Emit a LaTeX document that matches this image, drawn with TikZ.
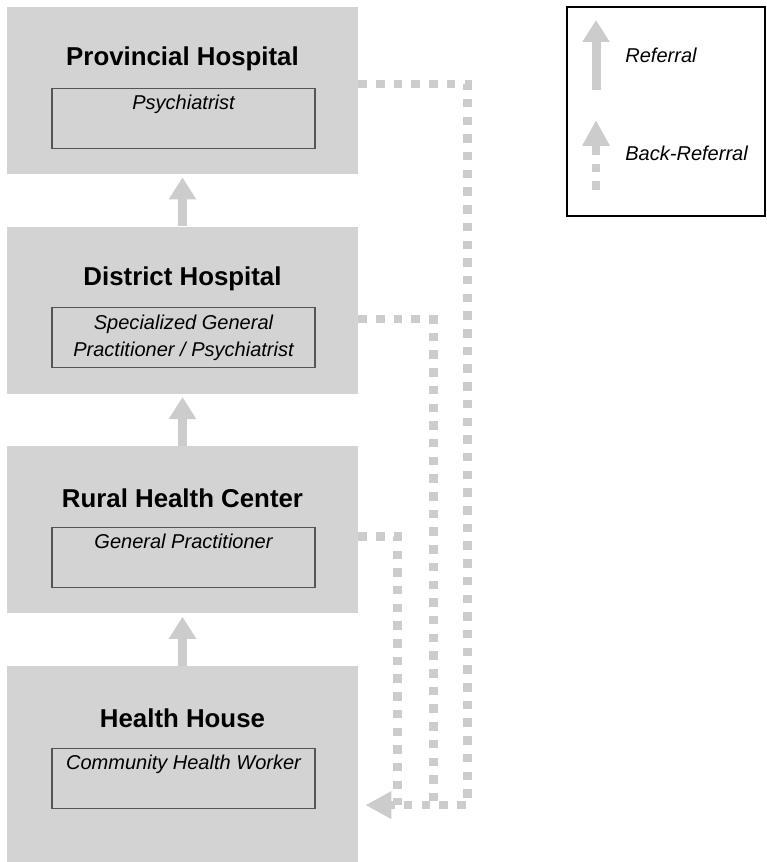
\documentclass[tikz,border=0pt]{standalone}
\usepackage{fontspec}
\setmainfont{Liberation Sans}
\usetikzlibrary{positioning,arrows.meta}
\definecolor{levelgray}{RGB}{211,211,211}
\definecolor{linkgray}{RGB}{204,204,204}
\definecolor{framegray}{RGB}{85,85,85}

\begin{document}
\begin{tikzpicture}[node distance=1.04cm,
  levelbox/.style={fill=levelgray, minimum width=7.02cm, minimum height=3.34cm, inner sep=0},
  leveltitle/.style={font=\fontsize{14.7}{17}\selectfont\bfseries, inner sep=0},
  staffbox/.style={draw=framegray, line width=0.6pt, minimum width=5.26cm, minimum height=1.2cm, inner sep=0},
  staff/.style={font=\fontsize{11.4}{15.3}\selectfont\itshape, align=center, inner sep=0, anchor=north},
  referral/.style={linkgray, line width=0.18cm, -{Triangle[width=0.52cm,length=0.44cm]}},
  backref/.style={linkgray, line width=0.17cm, dash pattern=on 0.17cm off 0.184cm},
  backtipped/.style={backref, -{Triangle[width=0.52cm,length=0.52cm]}},
  legendtext/.style={font=\fontsize{11.4}{15.3}\selectfont\itshape, anchor=west, inner sep=0}]

\useasboundingbox (0,0) rectangle (15.32,-17.24);

% levels of care
\node[levelbox] (prov) at (3.65,-1.81) {};
\node[levelbox, below=of prov] (dist) {};
\node[levelbox, below=of dist] (rural) {};
\node[levelbox, below=of rural, minimum height=3.96cm] (house) {};

\node[leveltitle] (provT) at ([yshift=-1.04cm]prov.north) {Provincial Hospital};
\node[leveltitle] (distT) at ([yshift=-1.04cm]dist.north) {District Hospital};
\node[leveltitle] (ruralT) at ([yshift=-1.04cm]rural.north) {Rural Health Center};
\node[leveltitle] (houseT) at ([yshift=-1.06cm]house.north) {Health House};

% staff at each level
\node[staffbox, below=1.62cm of prov.north, xshift=0.02cm] (provS) {};
\node[staffbox, below=1.62cm of dist.north, xshift=0.02cm] (distS) {};
\node[staffbox, below=1.62cm of rural.north, xshift=0.02cm] (ruralS) {};
\node[staffbox, below=1.64cm of house.north, xshift=0.02cm] (houseS) {};

\node[staff] (provW) at ([yshift=-0.14cm]provS.north) {Psychiatrist};
\node[staff] (distW) at ([yshift=-0.14cm]distS.north) {Specialized General\\Practitioner / Psychiatrist};
\node[staff] (ruralW) at ([yshift=-0.14cm]ruralS.north) {General Practitioner};
\node[staff] (houseW) at ([yshift=-0.14cm]houseS.north) {Community Health Worker};

% referral
\draw[referral, shorten >=0.06cm] (dist.north) -- (prov.south);
\draw[referral, shorten >=0.06cm] (rural.north) -- (dist.south);
\draw[referral, shorten >=0.06cm] (house.north) -- (rural.south);

% back-referral
\coordinate (backtip) at ([xshift=0.14cm,yshift=-0.8cm]house.east);
\draw[backref] ([yshift=-0.13cm]rural.east) -| ([xshift=0.64cm]backtip);
\draw[backref] ([yshift=-0.18cm]dist.east) -| ([xshift=1.36cm]backtip);
\draw[backtipped] ([yshift=0.13cm]prov.east) -| ([xshift=2.04cm]backtip) -- (backtip);

% legend
\node[draw, line width=0.75pt, minimum width=3.96cm, minimum height=4.18cm, inner sep=0] (legend) at (13.32,-2.23) {};
\coordinate (refA) at (11.92,-1.8);
\coordinate (refB) at (11.92,-0.4);
\draw[referral] (refA) -- (refB);
\node[legendtext] (refL) at (12.5,-1.1) {Referral};
\coordinate (backA) at (11.92,-3.8);
\coordinate (backB) at (11.92,-2.4);
\draw[backtipped] (backA) -- (backB);
\node[legendtext] (backL) at (12.5,-3.06) {Back-Referral};
\end{tikzpicture}
\end{document}
